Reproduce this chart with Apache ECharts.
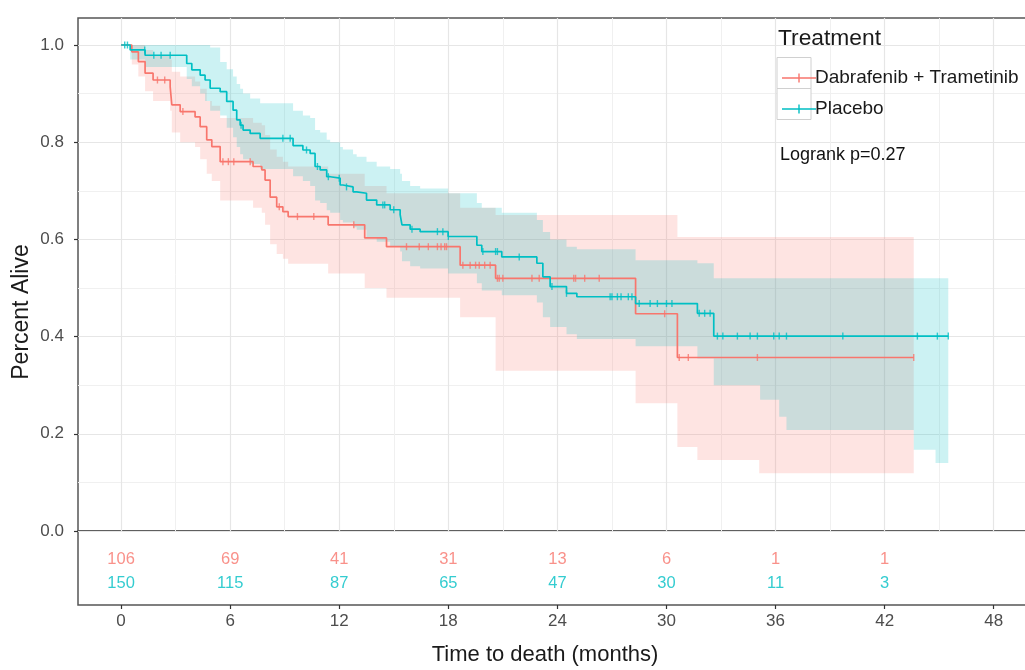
<!DOCTYPE html>
<html><head><meta charset="utf-8">
<script src="https://cdn.jsdelivr.net/npm/echarts@6/dist/echarts.min.js"></script>
<style>html,body{margin:0;padding:0;background:#fff}#c{width:1025px;height:670px}</style>
</head><body><div id="c"></div>
<script>
// ---------- axes / labels ----------
const xTicks = [0, 6, 12, 18, 24, 30, 36, 42, 48];
const xMinorTicks = [3, 9, 15, 21, 27, 33, 39, 45];
const yTicks = [0, 0.2, 0.4, 0.6, 0.8, 1.0];
const yMinorTicks = [0.1, 0.3, 0.5, 0.7, 0.9];
const groupNames = ['Dabrafenib + Trametinib', 'Placebo'];
const groupColors = ['#F8766D', '#00BFC4'];

// ---------- Dabrafenib + Trametinib ----------
const dtTime = [0, 0.59, 0.95, 1.32, 1.76, 2.70, 2.79, 3.25, 4.07, 4.35, 4.71, 4.99, 5.45, 7.26, 7.74, 7.92, 8.20, 8.56, 8.90, 9.19, 11.39, 13.40, 14.60, 18.65, 20.60, 28.30, 30.60];
const dtSurv = [1.0, 0.986, 0.966, 0.942, 0.928, 0.914, 0.877, 0.863, 0.852, 0.832, 0.805, 0.791, 0.760, 0.750, 0.743, 0.722, 0.687, 0.667, 0.657, 0.647, 0.630, 0.603, 0.585, 0.547, 0.520, 0.447, 0.357];
const dtEnd = 43.6;
const dtBandTime = [0, 0.59, 0.95, 1.32, 1.76, 2.70, 2.79, 3.25, 4.07, 4.35, 4.71, 4.99, 5.45, 7.26, 7.74, 7.92, 8.20, 8.56, 8.90, 9.19, 11.39, 13.40, 14.60, 18.65, 20.60, 28.30, 30.60, 31.70, 35.10];
const dtBandLow = [1.0, 0.96, 0.935, 0.905, 0.885, 0.865, 0.82, 0.80, 0.79, 0.765, 0.735, 0.72, 0.68, 0.665, 0.655, 0.63, 0.59, 0.57, 0.56, 0.55, 0.53, 0.50, 0.48, 0.44, 0.33, 0.263, 0.173, 0.146, 0.119];
const dtBandHigh = [1.0, 1.0, 1.0, 0.99, 0.98, 0.97, 0.945, 0.935, 0.925, 0.91, 0.885, 0.875, 0.85, 0.84, 0.835, 0.815, 0.785, 0.77, 0.76, 0.75, 0.735, 0.71, 0.695, 0.665, 0.65, 0.65, 0.605, 0.605, 0.605];
const dtCensor = [2.0, 2.4, 3.4, 5.6, 5.9, 6.2, 7.1, 8.7, 9.7, 10.6, 12.8, 15.7, 16.4, 16.9, 17.4, 17.6, 17.8, 17.9, 18.8, 19.2, 19.5, 19.7, 20.0, 20.3, 20.7, 20.8, 21.0, 22.6, 23.0, 24.9, 25.0, 25.5, 26.3, 29.9, 30.7, 31.2, 35.0, 43.6];

// ---------- Placebo ----------
const pboTime = [0, 0.5, 1.32, 3.61, 3.89, 4.35, 4.62, 4.90, 5.45, 5.81, 6.16, 6.36, 6.55, 6.71, 7.10, 7.65, 9.46, 10.0, 10.4, 10.67, 10.95, 11.31, 11.5, 12.05, 12.2, 12.76, 12.96, 13.5, 14.06, 14.8, 15.35, 15.45, 15.9, 16.45, 17.99, 19.57, 19.84, 20.94, 22.87, 23.2, 23.6, 24.5, 25.07, 28.3, 31.7, 32.6];
const pboSurv = [1.0, 0.99, 0.979, 0.962, 0.949, 0.938, 0.928, 0.911, 0.904, 0.884, 0.866, 0.846, 0.835, 0.825, 0.818, 0.808, 0.793, 0.784, 0.777, 0.750, 0.743, 0.729, 0.726, 0.712, 0.708, 0.698, 0.695, 0.681, 0.671, 0.661, 0.651, 0.630, 0.621, 0.616, 0.606, 0.588, 0.575, 0.564, 0.551, 0.523, 0.503, 0.489, 0.482, 0.468, 0.448, 0.401];
const pboEnd = 45.5;
const pboBandTime = [0, 0.5, 1.32, 3.61, 3.89, 4.35, 4.62, 4.90, 5.45, 5.81, 6.16, 6.36, 6.55, 6.71, 7.10, 7.65, 9.46, 10.0, 10.4, 10.67, 10.95, 11.31, 11.5, 12.05, 12.2, 12.76, 12.96, 13.5, 14.06, 14.8, 15.35, 15.45, 15.9, 16.45, 17.99, 19.57, 19.84, 20.94, 22.87, 23.2, 23.6, 24.5, 25.07, 28.3, 31.7, 32.6, 35.15, 36.2, 36.6, 43.6, 44.8];
const pboBandLow = [1.0, 0.97, 0.955, 0.93, 0.915, 0.90, 0.885, 0.865, 0.855, 0.83, 0.81, 0.79, 0.775, 0.765, 0.755, 0.745, 0.73, 0.72, 0.71, 0.68, 0.675, 0.66, 0.655, 0.64, 0.635, 0.625, 0.62, 0.605, 0.595, 0.585, 0.575, 0.555, 0.545, 0.54, 0.53, 0.51, 0.495, 0.485, 0.47, 0.44, 0.42, 0.405, 0.395, 0.38, 0.355, 0.30, 0.27, 0.235, 0.208, 0.167, 0.14];
const pboBandHigh = [1.0, 1.0, 1.0, 1.0, 1.0, 1.0, 1.0, 0.995, 0.965, 0.95, 0.935, 0.92, 0.91, 0.90, 0.89, 0.88, 0.865, 0.855, 0.85, 0.825, 0.82, 0.805, 0.80, 0.79, 0.785, 0.775, 0.77, 0.76, 0.75, 0.745, 0.735, 0.72, 0.71, 0.705, 0.695, 0.675, 0.665, 0.655, 0.64, 0.615, 0.60, 0.585, 0.58, 0.557, 0.551, 0.52, 0.52, 0.52, 0.52, 0.52, 0.52];
const pboCensor = [0.2, 0.35, 1.3, 1.8, 2.2, 2.7, 6.6, 8.9, 9.3, 10.2, 10.8, 11.4, 12.0, 12.4, 14.4, 14.5, 15.0, 16.0, 17.4, 17.7, 18.0, 19.9, 20.6, 20.7, 21.9, 23.7, 24.5, 26.9, 27.0, 27.3, 27.5, 27.9, 28.1, 28.5, 29.1, 29.5, 30.0, 30.3, 31.8, 32.1, 32.4, 32.8, 33.1, 33.9, 34.6, 35.0, 35.9, 36.2, 36.6, 39.7, 43.8, 44.9, 45.5];

// ---------- number at risk ----------
const riskTimes = [0, 6, 12, 18, 24, 30, 36, 42];
const dtRisk = [106, 69, 41, 31, 13, 6, 1, 1];
const pboRisk = [150, 115, 87, 65, 47, 30, 11, 3];

// ---------- helpers ----------
function stepAt(times, vals, t) {
  let v = vals[0];
  for (let i = 0; i < times.length; i++) if (times[i] <= t) v = vals[i];
  return v;
}
function curveData(times, vals, end) {
  const d = times.map((t, i) => [t, vals[i]]);
  d.push([end, vals[vals.length - 1]]);
  return d;
}
function censorData(ctimes, times, vals) {
  return ctimes.map(t => [t, stepAt(times, vals, t)]);
}
// step-shaped ribbon outline in data space
function bandOutline(times, low, high, end) {
  const pts = [];
  const n = times.length;
  for (let i = 0; i < n; i++) {
    const t1 = i + 1 < n ? times[i + 1] : end;
    pts.push([times[i], high[i]], [t1, high[i]]);
  }
  for (let i = n - 1; i >= 0; i--) {
    const t1 = i + 1 < n ? times[i + 1] : end;
    pts.push([t1, low[i]], [times[i], low[i]]);
  }
  return pts;
}

const FONT = "'Liberation Sans', Arial, sans-serif";
const xMin = -2.37, xMax = 50;
const pxPerMonth = 18.18;
const gridLeft = 78, gridWidth = (xMax - xMin) * pxPerMonth;
const yMax = 1.0556;
const major = '#e6e6e6', minor = '#f0f0f0', border = '#555555';

function bandSeries(name, times, low, high, end, color) {
  const outline = bandOutline(times, low, high, end);
  return {
    name: name, type: 'custom', xAxisIndex: 0, yAxisIndex: 0, silent: true, z: 1,
    data: [[times[0], high[0]]],
    renderItem: function (params, api) {
      return { type: 'polygon', shape: { points: outline.map(p => api.coord(p)) }, style: { fill: color } };
    }
  };
}

const chart = echarts.init(document.getElementById('c'), null, { renderer: 'canvas' });
const option = {
  animation: false,
  backgroundColor: '#ffffff',
  textStyle: { fontFamily: FONT },
  grid: [
    { left: gridLeft, top: 18, width: gridWidth, height: 513, show: true, borderColor: border, borderWidth: 1.5,
      backgroundColor: 'transparent', containLabel: false, outerBoundsMode: 'none' },
    { left: gridLeft, top: 531, width: gridWidth, height: 74, show: true, borderColor: border, borderWidth: 1.5,
      backgroundColor: 'transparent', containLabel: false, outerBoundsMode: 'none' }
  ],
  xAxis: [
    { gridIndex: 0, type: 'value', min: xMin, max: xMax,
      axisLine: { show: false, onZero: false }, axisLabel: { show: false },
      axisTick: { show: false, customValues: xTicks },
      splitLine: { show: true, lineStyle: { color: major, width: 1.2 } } },
    { gridIndex: 0, type: 'value', min: xMin, max: xMax,
      axisLine: { show: false, onZero: false }, axisLabel: { show: false },
      axisTick: { show: false, customValues: xMinorTicks },
      splitLine: { show: true, lineStyle: { color: minor, width: 1 } } },
    { gridIndex: 1, type: 'value', min: xMin, max: xMax, position: 'bottom',
      axisLine: { show: false, onZero: false },
      axisTick: { show: true, length: 4, customValues: xTicks, lineStyle: { color: '#333', width: 1.2 } },
      axisLabel: { show: true, customValues: xTicks, color: '#4d4d4d', fontSize: 17, margin: 8, fontFamily: FONT },
      splitLine: { show: false } }
  ],
  yAxis: [
    { gridIndex: 0, type: 'value', min: 0, max: yMax, position: 'left',
      axisLine: { show: false, onZero: false },
      axisTick: { show: true, length: 4, customValues: yTicks, lineStyle: { color: '#333', width: 1.2 } },
      axisLabel: { show: true, customValues: yTicks, color: '#4d4d4d', fontSize: 17, margin: 14, fontFamily: FONT,
        formatter: v => Number(v).toFixed(1) },
      splitLine: { show: true, lineStyle: { color: major, width: 1.2 } } },
    { gridIndex: 0, type: 'value', min: 0, max: yMax, position: 'left',
      axisLine: { show: false, onZero: false }, axisLabel: { show: false },
      axisTick: { show: false, customValues: yMinorTicks },
      splitLine: { show: true, lineStyle: { color: minor, width: 1 } } },
    { gridIndex: 1, type: 'value', min: 0, max: 1, show: false }
  ],
  legend: {
    data: groupNames, orient: 'vertical', left: 777, top: 57.5,
    itemWidth: 34, itemHeight: 9, itemGap: 0, selectedMode: false,
    icon: 'path://M0,3.8 L34,3.8 L34,5.2 L0,5.2 Z M16.3,0 L17.7,0 L17.7,9 L16.3,9 Z',
    itemStyle: { borderWidth: 0 },
    textStyle: { fontSize: 19, color: '#1a1a1a', lineHeight: 31, fontFamily: FONT, padding: [0, 0, 0, -6] }
  },
  graphic: [
    { type: 'rect', shape: { x: 777, y: 57.5, width: 34, height: 31 }, style: { fill: '#fff', stroke: '#d0d0d0', lineWidth: 1 }, z: 3 },
    { type: 'rect', shape: { x: 777, y: 88.5, width: 34, height: 31 }, style: { fill: '#fff', stroke: '#d0d0d0', lineWidth: 1 }, z: 3 },
    { type: 'text', left: 778, top: 27, z: 5, style: { text: 'Treatment', fontSize: 22.8, fill: '#1a1a1a', fontFamily: FONT } },
    { type: 'text', left: 780, top: 146, z: 5, style: { text: 'Logrank p=0.27', fontSize: 18, fill: '#111', fontFamily: FONT } },
    { type: 'text', x: 22, y: 312, rotation: Math.PI / 2, z: 5,
      style: { text: 'Percent Alive', fontSize: 23, fill: '#1a1a1a', fontFamily: FONT, align: 'center', verticalAlign: 'middle' } },
    { type: 'text', x: 545, y: 655, z: 5,
      style: { text: 'Time to death (months)', fontSize: 22, fill: '#1a1a1a', fontFamily: FONT, align: 'center', verticalAlign: 'middle' } }
  ],
  series: [
    bandSeries('dtBand', dtBandTime, dtBandLow, dtBandHigh, dtEnd, 'rgba(248,118,109,0.2)'),
    bandSeries('pboBand', pboBandTime, pboBandLow, pboBandHigh, pboEnd, 'rgba(0,191,196,0.2)'),
    { name: groupNames[0], type: 'line', xAxisIndex: 0, yAxisIndex: 0, step: 'end', symbol: 'none', z: 3,
      color: groupColors[0], lineStyle: { color: groupColors[0], width: 1.7 },
      data: curveData(dtTime, dtSurv, dtEnd) },
    { name: groupNames[1], type: 'line', xAxisIndex: 0, yAxisIndex: 0, step: 'end', symbol: 'none', z: 3,
      color: groupColors[1], lineStyle: { color: groupColors[1], width: 1.7 },
      data: curveData(pboTime, pboSurv, pboEnd) },
    { name: 'dtCens', type: 'scatter', xAxisIndex: 0, yAxisIndex: 0, symbol: 'rect', symbolSize: [1.4, 7], z: 4,
      itemStyle: { color: groupColors[0] }, silent: true, data: censorData(dtCensor, dtTime, dtSurv) },
    { name: 'pboCens', type: 'scatter', xAxisIndex: 0, yAxisIndex: 0, symbol: 'rect', symbolSize: [1.4, 7], z: 4,
      itemStyle: { color: groupColors[1] }, silent: true, data: censorData(pboCensor, pboTime, pboSurv) },
    { name: 'dtRisk', type: 'scatter', xAxisIndex: 2, yAxisIndex: 2, symbolSize: 1, silent: true,
      itemStyle: { color: 'rgba(0,0,0,0)' },
      label: { show: true, position: 'inside', color: groupColors[0], fontSize: 16.5, fontFamily: FONT, formatter: p => String(p.value[2]) },
      data: riskTimes.map((t, i) => [t, 0.622, dtRisk[i]]) },
    { name: 'pboRisk', type: 'scatter', xAxisIndex: 2, yAxisIndex: 2, symbolSize: 1, silent: true,
      itemStyle: { color: 'rgba(0,0,0,0)' },
      label: { show: true, position: 'inside', color: groupColors[1], fontSize: 16.5, fontFamily: FONT, formatter: p => String(p.value[2]) },
      data: riskTimes.map((t, i) => [t, 0.297, pboRisk[i]]) }
  ]
};
chart.setOption(option);
</script></body></html>
